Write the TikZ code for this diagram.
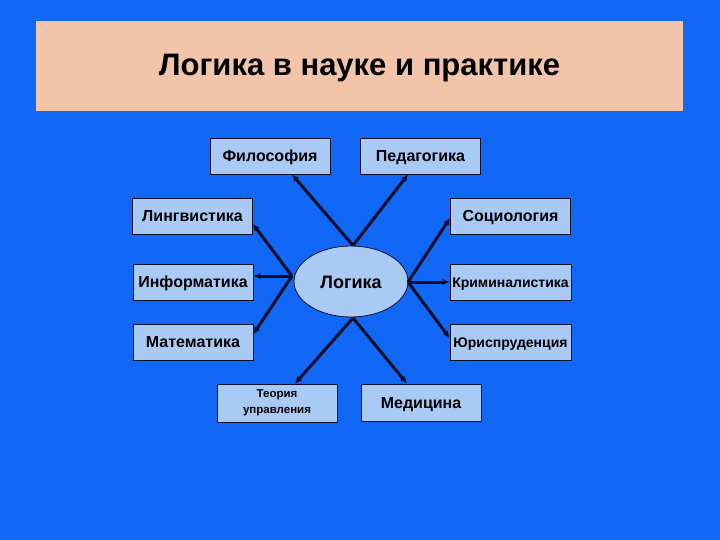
\documentclass[tikz,border=0pt]{standalone}
\usepackage{fontspec}
\setmainfont{Liberation Sans}
\usetikzlibrary{arrows.meta,shapes.geometric}
\definecolor{bgblue}{RGB}{18,104,246}
\definecolor{peach}{RGB}{242,196,170}
\definecolor{boxblue}{RGB}{170,202,246}
\definecolor{navy}{RGB}{10,14,40}
\tikzset{
  box/.style={draw=navy, line width=0.8pt, fill=boxblue, minimum width=120pt, minimum height=36pt, inner sep=0pt, text height=11.5pt, text depth=0pt, font=\fontsize{16}{19}\selectfont\bfseries, text=black},
  smallbox/.style={box, text height=10pt, font=\fontsize{14}{17}\selectfont\bfseries},
  arr/.style={draw=navy, line width=3pt, -{Latex[length=7pt,width=6.5pt]}},
}
\begin{document}
\begin{tikzpicture}[x=1pt,y=-1pt]
\useasboundingbox (0,0) rectangle (720,540);
\fill[bgblue] (0,0) rectangle (720,540);
\fill[peach] (36,21) rectangle (683,111);
\node (title) at (359.5,68) {\fontsize{31}{36}\selectfont\bfseries Логика в науке и практике};

\node[box] (filo) at (270,156) {Философия};
\node[box] (ped) at (420.5,156) {Педагогика};
\node[box] (ling) at (192.5,216) {Лингвистика};
\node[box] (soc) at (510.5,216) {Социология};
\node[box] (inf) at (193,282) {Информатика};
\node[smallbox, minimum width=121pt] (krim) at (510.5,282) {Криминалистика};
\node[box] (mat) at (193,342) {Математика};
\node[smallbox, minimum width=121pt] (jur) at (510.5,342) {Юриспруденция};
\node[box, minimum height=38pt, align=center, text height=, text depth=, font=\fontsize{11.5}{16}\selectfont\bfseries] (teor) at (277,403) {Теория\\управления};
\node[box, minimum height=37pt] (med) at (421,402.5) {Медицина};

\node[ellipse, draw=navy, line width=0.8pt, fill=boxblue, minimum width=114pt, minimum height=71pt, inner sep=0pt, text height=13pt, text depth=0pt, font=\fontsize{18}{22}\selectfont\bfseries] (log) at (351,281.5) {Логика};

\coordinate (ctop) at (353,245.5);
\coordinate (cleft) at (292,276);
\coordinate (cright) at (408,282);
\coordinate (cbot) at (353,318);

\draw[arr] (ctop) -- ([xshift=22pt]filo.south);
\draw[arr] (ctop) -- ([xshift=-12.5pt]ped.south);
\draw[arr] (cleft) -- ([yshift=-8pt]ling.east);
\draw[arr] (cleft) -- ([yshift=6pt]inf.east);
\draw[arr] (cleft) -- ([yshift=8pt]mat.east);
\draw[arr] (cright) -- ([yshift=-2pt]soc.west);
\draw[arr] (cright) -- (krim.west);
\draw[arr] (cright) -- ([yshift=4pt]jur.west);
\draw[arr] (cbot) -- ([xshift=18pt]teor.north);
\draw[arr] (cbot) -- ([xshift=-14pt]med.north);
\end{tikzpicture}
\end{document}
